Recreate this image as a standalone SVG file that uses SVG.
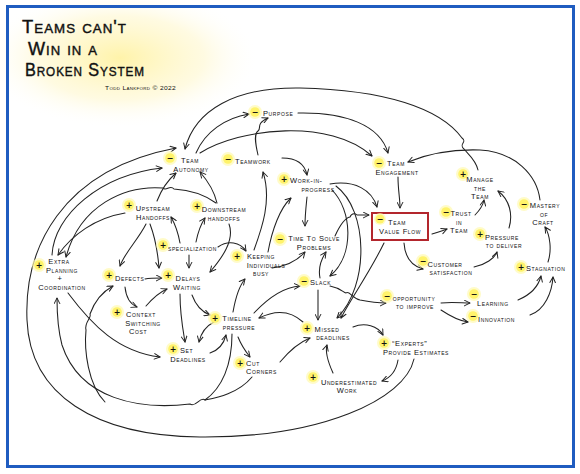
<svg xmlns="http://www.w3.org/2000/svg" width="580" height="474" viewBox="0 0 580 474">
<defs>
<radialGradient id="glow" cx="0.5" cy="0.5" r="0.5">
<stop offset="0" stop-color="#fff2a0" stop-opacity="0.9"/>
<stop offset="0.6" stop-color="#fff6c4" stop-opacity="0.5"/>
<stop offset="1" stop-color="#ffffff" stop-opacity="0"/>
</radialGradient>
<marker id="ah" viewBox="0 0 10 10" refX="9" refY="5" markerWidth="7" markerHeight="7" markerUnits="userSpaceOnUse" orient="auto">
<path d="M1,1 L9,5 L1,9" fill="none" stroke="#222" stroke-width="1.4" stroke-linecap="round" stroke-linejoin="round"/>
</marker>
<style>
.c{fill:none;stroke:#222;stroke-width:1.05;stroke-linecap:round}
.t{font-family:"Liberation Sans",Arial,sans-serif;font-size:7.5px;font-variant:small-caps;fill:#111;letter-spacing:0.6px}
.m{text-anchor:middle}
.title{font-family:"Liberation Sans",Arial,sans-serif;font-size:18px;font-variant:small-caps;fill:#111;letter-spacing:1px;stroke:#111;stroke-width:0.4}
.dot{fill:#fff36b}
.halo{fill:#fff9b0;opacity:0.7}
.sg{font-family:"DejaVu Sans",sans-serif;font-size:8px;font-weight:bold;text-anchor:middle;fill:#111}
</style>
</defs>
<rect x="0" y="0" width="580" height="474" fill="#ffffff"/>
<ellipse cx="120" cy="58" rx="140" ry="70" fill="url(#glow)"/>
<rect x="7.5" y="6.5" width="566" height="460" fill="none" stroke="#1f5cc0" stroke-width="3"/>

<g id="title">
<text class="title" x="22" y="33" textLength="105" lengthAdjust="spacingAndGlyphs">Teams can't</text>
<text class="title" x="28" y="55" textLength="70" lengthAdjust="spacingAndGlyphs">Win in a</text>
<text class="title" x="25" y="76" textLength="120" lengthAdjust="spacingAndGlyphs">Broken System</text>
<text class="t" x="105" y="90" style="font-size:6px;letter-spacing:0.3px" textLength="71" lengthAdjust="spacingAndGlyphs">Todd Lankford © 2022</text>
</g>

<g id="connectors">
<path class="c" marker-end="url(#ah)" d="M196,153 C205,132 225,118 249,114"/>
<path class="c" marker-end="url(#ah)" d="M478,170 C476,160 468,154 464,149 C458,144 468,142 462,138 C440,108 385,90 300,88 C235,87 195,110 185,149"/>
<path class="c" marker-end="url(#ah)" d="M414,359 C405,400 320,438 200,437 C95,436 30,395 27,320 C24,250 60,170 176,148"/>
<path class="c" marker-end="url(#ah)" d="M52,255 C54,215 100,175 162,168"/>
<path class="c" marker-end="url(#ah)" d="M157,201 C162,188 168,180 176,173"/>
<path class="c" marker-end="url(#ah)" d="M217,203 C214,190 207,180 200,172"/>
<path class="c" marker-end="url(#ah)" d="M200,153 C240,128 330,118 372,156"/>
<path class="c" marker-end="url(#ah)" d="M298,113 C345,112 380,125 388,153"/>
<path class="c" marker-end="url(#ah)" d="M258,155 C255,142 254,134 258,131 C262,128 255,124 268,118"/>
<path class="c" marker-end="url(#ah)" d="M540,200 C537,175 515,152 480,150 C450,149 425,155 408,162"/>
<path class="c" marker-end="url(#ah)" d="M398,177 C398,190 400,198 400,208"/>
<path class="c" marker-end="url(#ah)" d="M282,158 C297,158 305,165 307,175"/>
<path class="c" marker-end="url(#ah)" d="M330,184 C355,180 372,190 377,207"/>
<path class="c" marker-end="url(#ah)" d="M307,197 C306,207 305,215 305,226"/>
<path class="c" marker-end="url(#ah)" d="M332,190 C352,210 355,255 330,276"/>
<path class="c" marker-end="url(#ah)" d="M336,186 C368,210 370,285 337,318"/>
<path class="c" marker-end="url(#ah)" d="M335,236 C340,225 345,218 350,217 C352,212 356,214 357,215 L369,215"/>
<path class="c" marker-end="url(#ah)" d="M384,243 C370,272 350,300 341,318"/>
<path class="c" marker-end="url(#ah)" d="M404,243 C405,258 412,266 423,269"/>
<path class="c" marker-end="url(#ah)" d="M432,234 C438,232 442,231 447,229"/>
<path class="c" marker-end="url(#ah)" d="M475,215 C480,210 483,205 484,200"/>
<path class="c" marker-end="url(#ah)" d="M509,228 C513,215 510,200 498,191"/>
<path class="c" marker-end="url(#ah)" d="M474,267 C485,265 495,258 497,252"/>
<path class="c" marker-end="url(#ah)" d="M548,262 C552,250 550,235 545,227"/>
<path class="c" marker-end="url(#ah)" d="M518,300 C530,295 538,288 541,276"/>
<path class="c" marker-end="url(#ah)" d="M530,315 C545,310 552,292 553,277"/>
<path class="c" marker-end="url(#ah)" d="M441,303 C452,302 462,303 470,303"/>
<path class="c" marker-end="url(#ah)" d="M441,310 C450,316 460,321 468,322"/>
<path class="c" marker-end="url(#ah)" d="M330,286 C340,288 343,292 346,293 C349,290 352,298 360,300 C370,302 378,303 386,303"/>
<path class="c" marker-end="url(#ah)" d="M320,278 C318,268 322,258 326,252"/>
<path class="c" marker-end="url(#ah)" d="M318,290 L318,320"/>
<path class="c" marker-end="url(#ah)" d="M254,313 C270,296 285,287 300,286"/>
<path class="c" marker-end="url(#ah)" d="M303,322 C290,310 275,310 259,318"/>
<path class="c" marker-end="url(#ah)" d="M353,327 C365,322 378,326 383,335"/>
<path class="c" marker-end="url(#ah)" d="M398,360 C396,372 390,378 382,381"/>
<path class="c" marker-end="url(#ah)" d="M333,373 C328,362 325,352 327,345"/>
<path class="c" marker-end="url(#ah)" d="M280,362 C290,350 300,342 310,338"/>
<path class="c" marker-end="url(#ah)" d="M238,337 C242,347 246,352 250,357"/>
<path class="c" marker-end="url(#ah)" d="M214,322 C206,326 201,333 199,342"/>
<path class="c" marker-end="url(#ah)" d="M210,353 C219,350 224,343 226,335"/>
<path class="c" marker-end="url(#ah)" d="M180,294 C180,315 183,330 185,342"/>
<path class="c" marker-end="url(#ah)" d="M192,295 C196,306 202,312 210,315"/>
<path class="c" marker-end="url(#ah)" d="M252,377 C238,394 215,398 205,400 C200,396 196,408 190,404 C140,410 80,400 62,345 C58,330 57,315 57,298"/>
<path class="c" d="M232,334 C232,365 222,388 205,400"/>
<path class="c" marker-end="url(#ah)" d="M68,293 C92,325 118,352 160,357"/>
<path class="c" marker-end="url(#ah)" d="M105,402 C88,385 84,350 86,330 C84,322 92,318 90,314 C95,300 102,292 113,286"/>
<path class="c" marker-end="url(#ah)" d="M146,224 C138,240 125,252 120,266"/>
<path class="c" marker-end="url(#ah)" d="M150,224 C156,240 158,255 159,268"/>
<path class="c" marker-end="url(#ah)" d="M180,243 C178,232 175,224 171,217"/>
<path class="c" marker-end="url(#ah)" d="M196,242 C198,232 201,224 205,218"/>
<path class="c" marker-end="url(#ah)" d="M189,255 L189,268"/>
<path class="c" marker-end="url(#ah)" d="M145,279 C150,278 156,278 162,278"/>
<path class="c" marker-end="url(#ah)" d="M125,287 C126,297 130,304 137,307"/>
<path class="c" marker-end="url(#ah)" d="M146,306 C153,298 160,292 167,289"/>
<path class="c" marker-end="url(#ah)" d="M218,247 C228,240 240,242 246,251"/>
<path class="c" marker-end="url(#ah)" d="M229,224 C235,240 222,258 210,272"/>
<path class="c" marker-end="url(#ah)" d="M254,250 C262,228 272,200 263,172"/>
<path class="c" marker-end="url(#ah)" d="M268,252 C272,230 280,208 291,198"/>
<path class="c" marker-end="url(#ah)" d="M272,268 C287,266 298,260 305,252"/>
<path class="c" marker-end="url(#ah)" d="M233,312 C236,295 240,285 245,279"/>
<path class="c" marker-end="url(#ah)" d="M216,203 C205,195 190,190 174,189 C170,184 166,192 163,188 C125,185 80,205 66,257"/>
<path class="c" marker-end="url(#ah)" d="M125,213 C95,218 72,235 58,255"/>
</g>

<g id="purpose"><circle class="halo" cx="255" cy="112" r="7"/><circle class="dot" cx="255" cy="112" r="4.8"/><text class="sg" x="255" y="115">−</text><text class="t" x="263" y="116">Purpose</text></g>
<g id="team-autonomy"><circle class="halo" cx="170" cy="158" r="7"/><circle class="dot" cx="170" cy="158" r="4.8"/><text class="sg" x="170" y="161">−</text><text class="t m" x="190" y="163">Team</text><text class="t m" x="191" y="172">Autonomy</text></g>
<g id="teamwork"><circle class="halo" cx="228" cy="159" r="7"/><circle class="dot" cx="228" cy="159" r="4.8"/><text class="sg" x="228" y="162">−</text><text class="t" x="235" y="164">Teamwork</text></g>
<g id="team-engagement"><circle class="halo" cx="379" cy="163" r="7"/><circle class="dot" cx="379" cy="163" r="4.8"/><text class="sg" x="379" y="166">−</text><text class="t m" x="396" y="166">Team</text><text class="t m" x="397" y="175">Engagement</text></g>
<g id="work-in-progress"><circle class="halo" cx="284" cy="179" r="7"/><circle class="dot" cx="284" cy="179" r="4.8"/><text class="sg" x="284" y="182">+</text><text class="t" x="290" y="183">Work-in-</text><text class="t m" x="318" y="192">progress</text></g>
<g id="manage-the-team"><circle class="halo" cx="463" cy="174" r="7"/><circle class="dot" cx="463" cy="174" r="4.8"/><text class="sg" x="463" y="177">+</text><text class="t m" x="480" y="182">Manage</text><text class="t m" x="480" y="190.5">the</text><text class="t m" x="480" y="199">Team</text></g>
<g id="mastery-of-craft"><circle class="halo" cx="524" cy="204" r="7"/><circle class="dot" cx="524" cy="204" r="4.8"/><text class="sg" x="524" y="207">−</text><text class="t m" x="545" y="208">Mastery</text><text class="t m" x="544" y="216.5">of</text><text class="t m" x="543" y="225">Craft</text></g>
<g id="upstream-handoffs"><circle class="halo" cx="129" cy="205" r="7"/><circle class="dot" cx="129" cy="205" r="4.8"/><text class="sg" x="129" y="208">+</text><text class="t m" x="153" y="211">Upstream</text><text class="t m" x="153" y="220">Handoffs</text></g>
<g id="downstream-handoffs"><circle class="halo" cx="197" cy="206" r="7"/><circle class="dot" cx="197" cy="206" r="4.8"/><text class="sg" x="197" y="209">+</text><text class="t m" x="224" y="212">Downstream</text><text class="t m" x="224" y="221">handoffs</text></g>
<g id="team-value-flow"><rect x="372" y="213" width="56" height="27" fill="#fff" stroke="#b3262d" stroke-width="2"/><circle class="halo" cx="380" cy="219" r="6"/><circle class="dot" cx="380" cy="219" r="4.5"/><text class="sg" x="380" y="222">−</text><text class="t m" x="397" y="225">Team</text><text class="t m" x="400" y="234">Value Flow</text></g>
<g id="trust-in-team"><circle class="halo" cx="446" cy="212" r="7"/><circle class="dot" cx="446" cy="212" r="4.8"/><text class="sg" x="446" y="215">−</text><text class="t m" x="461" y="216">Trust</text><text class="t m" x="459" y="224.5">in</text><text class="t m" x="459" y="233">Team</text></g>
<g id="time-to-solve-problems"><circle class="halo" cx="280" cy="239" r="7"/><circle class="dot" cx="280" cy="239" r="4.8"/><text class="sg" x="280" y="242">−</text><text class="t m" x="314" y="241">Time To Solve</text><text class="t m" x="314" y="250">Problems</text></g>
<g id="pressure-to-deliver"><circle class="halo" cx="480" cy="234" r="7"/><circle class="dot" cx="480" cy="234" r="4.8"/><text class="sg" x="480" y="237">+</text><text class="t m" x="502" y="239.5">Pressure</text><text class="t m" x="504" y="248">to deliver</text></g>
<g id="specialization"><circle class="halo" cx="163" cy="245" r="7"/><circle class="dot" cx="163" cy="245" r="4.8"/><text class="sg" x="163" y="248">+</text><text class="t" x="168" y="251">specialization</text></g>
<g id="keeping-individuals-busy"><circle class="halo" cx="237" cy="256" r="7"/><circle class="dot" cx="237" cy="256" r="4.8"/><text class="sg" x="237" y="259">+</text><text class="t m" x="261" y="259">Keeping</text><text class="t m" x="266" y="267.5">Individuals</text><text class="t m" x="261" y="276">busy</text></g>
<g id="extra-planning-coordination"><circle class="halo" cx="39" cy="265" r="7"/><circle class="dot" cx="39" cy="265" r="4.8"/><text class="sg" x="39" y="268">+</text><text class="t m" x="59" y="264">Extra</text><text class="t m" x="62" y="272.5">Planning</text><text class="t m" x="60" y="281">+</text><text class="t m" x="62" y="289.5">Coordination</text></g>
<g id="defects"><circle class="halo" cx="109" cy="275" r="7"/><circle class="dot" cx="109" cy="275" r="4.8"/><text class="sg" x="109" y="278">+</text><text class="t" x="115" y="281">Defects</text></g>
<g id="delays-waiting"><circle class="halo" cx="168" cy="275" r="7"/><circle class="dot" cx="168" cy="275" r="4.8"/><text class="sg" x="168" y="278">+</text><text class="t m" x="188" y="281">Delays</text><text class="t m" x="187" y="290">Waiting</text></g>
<g id="customer-satisfaction"><circle class="halo" cx="423" cy="261" r="7"/><circle class="dot" cx="423" cy="261" r="4.8"/><text class="sg" x="423" y="264">−</text><text class="t m" x="445" y="266.5">Customer</text><text class="t m" x="451" y="275">satisfaction</text></g>
<g id="stagnation"><circle class="halo" cx="521" cy="267" r="7"/><circle class="dot" cx="521" cy="267" r="4.8"/><text class="sg" x="521" y="270">+</text><text class="t" x="526" y="271">Stagnation</text></g>
<g id="slack"><circle class="halo" cx="304" cy="281" r="7"/><circle class="dot" cx="304" cy="281" r="4.8"/><text class="sg" x="304" y="284">−</text><text class="t" x="310" y="285">Slack</text></g>
<g id="opportunity-to-improve"><circle class="halo" cx="387" cy="296" r="7"/><circle class="dot" cx="387" cy="296" r="4.8"/><text class="sg" x="387" y="299">−</text><text class="t m" x="414" y="300.5">opportunity</text><text class="t m" x="415" y="309">to improve</text></g>
<g id="learning"><circle class="halo" cx="474" cy="294" r="7"/><circle class="dot" cx="474" cy="294" r="4.8"/><text class="sg" x="474" y="297">−</text><text class="t" x="477" y="306">Learning</text></g>
<g id="innovation"><circle class="halo" cx="473" cy="316" r="7"/><circle class="dot" cx="473" cy="316" r="4.8"/><text class="sg" x="473" y="319">−</text><text class="t" x="478" y="322">Innovation</text></g>
<g id="context-switching-cost"><circle class="halo" cx="117" cy="312" r="7"/><circle class="dot" cx="117" cy="312" r="4.8"/><text class="sg" x="117" y="315">+</text><text class="t m" x="141" y="317">Context</text><text class="t m" x="143" y="325.5">Switching</text><text class="t m" x="138" y="334">Cost</text></g>
<g id="timeline-pressure"><circle class="halo" cx="215" cy="318" r="7"/><circle class="dot" cx="215" cy="318" r="4.8"/><text class="sg" x="215" y="321">+</text><text class="t m" x="237" y="321">Timeline</text><text class="t m" x="239" y="330">pressure</text></g>
<g id="missed-deadlines"><circle class="halo" cx="307" cy="328" r="7"/><circle class="dot" cx="307" cy="328" r="4.8"/><text class="sg" x="307" y="331">+</text><text class="t m" x="327" y="331.5">Missed</text><text class="t m" x="333" y="340">deadlines</text></g>
<g id="set-deadlines"><circle class="halo" cx="173" cy="349" r="7"/><circle class="dot" cx="173" cy="349" r="4.8"/><text class="sg" x="173" y="352">+</text><text class="t" x="180" y="353">Set</text><text class="t m" x="188" y="362">Deadlines</text></g>
<g id="experts-provide-estimates"><circle class="halo" cx="384" cy="343" r="7"/><circle class="dot" cx="384" cy="343" r="4.8"/><text class="sg" x="384" y="346">+</text><text class="t" x="392" y="346">“Experts”</text><text class="t m" x="416" y="355">Provide Estimates</text></g>
<g id="cut-corners"><circle class="halo" cx="240" cy="363" r="7"/><circle class="dot" cx="240" cy="363" r="4.8"/><text class="sg" x="240" y="366">+</text><text class="t" x="246" y="365.5">Cut</text><text class="t" x="246" y="374">Corners</text></g>
<g id="underestimated-work"><circle class="halo" cx="313" cy="377" r="7"/><circle class="dot" cx="313" cy="377" r="4.8"/><text class="sg" x="313" y="380">+</text><text class="t m" x="349" y="384.5">Underestimated</text><text class="t m" x="347" y="393">Work</text></g>
</svg>
